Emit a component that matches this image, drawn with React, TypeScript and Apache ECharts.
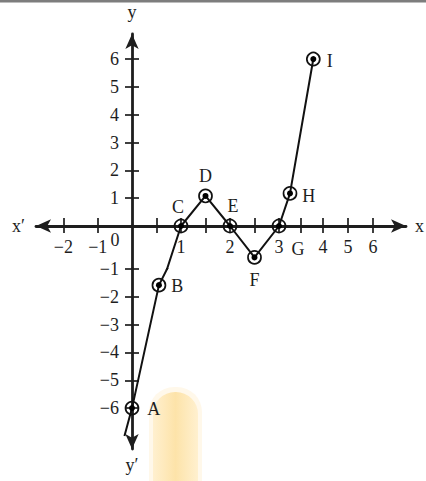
import { useEffect, useRef } from 'react';
import * as echarts from 'echarts';

// ---- data ----
const pointNames = ['A', 'B', 'C', 'D', 'E', 'F', 'G', 'H', 'I'];
const pointX = [0, 0.55, 1, 1.5, 2, 2.5, 3, 3.25, 3.78];
const pointY = [-6, -1.58, 0, 1.08, 0, -0.73, 0, 1.17, 6];
const tailX = -0.22; // curve keeps going below A
const tailY = -7.0;

// ---- tick values / labels ----
const xTicksLeft = [-2, -1];
const xTicksMid = [0.5, 1, 1.5, 2, 2.5, 3];
const xLabelsMid = [1, 2, 3];
const xTicksR1 = [3.5];
const xTicksR2 = [4, 5, 6];
const yTicksUpper = [1, 2, 3, 4, 5, 6];
const yTicksMid = [-1];
const yTicksLower = [-2, -3, -4, -5, -6];
const originLabel = '0';
const axisNames = { xStart: 'x\u2032', xEnd: 'x', yEnd: 'y', yStart: 'y\u2032' };

// label placement for A..I
const labelPos = ['right', 'right', 'top', 'top', 'top', 'bottom', 'bottom', 'right', 'right'];
const labelDist = [8, 5, 3, 4, 4, 6, 7, 5, 6];
const labelOff = [[0, 1], [0, 1], [-3, 0], [0, 0], [3, 0], [0, 0], [19, 0], [0, 3], [0, 2]];

const FONT = '"Liberation Serif", "Times New Roman", serif';
const INK = '#1e1e1e';
const CURVE = '#111111';
const FS = 18;

// piecewise scale of the hand-drawn figure: each piece is its own grid
const cols: Record<string, any> = {
  L: { left: 36, width: 96, min: -2.8, max: 0 },
  M: { left: 132, width: 147, min: 0, max: 3 },
  R1: { left: 279, width: 44, min: 3, max: 4 },
  R2: { left: 323, width: 83, min: 4, max: 7.32 },
};
const rows: Record<string, any> = {
  U: { top: 34, height: 192, min: 0, max: 6.9 },
  L1: { top: 226, height: 43, min: -1, max: 0 },
  L2: { top: 269, height: 180, min: -7.47, max: -1 },
};
const gridKeys = [
  ['L', 'U'], ['M', 'U'], ['M', 'L1'], ['M', 'L2'], ['R1', 'U'], ['R2', 'U'], ['L', 'L2'],
];

const fmt = (v: number) => (v < 0 ? '\u2212' + String(-v) : String(v));

const xDeco: Record<string, any> = {
  L: { ticks: xTicksLeft, labels: xTicksLeft, symbol: ['arrow', 'none'], name: axisNames.xStart, nameLocation: 'start', nameGap: 11 },
  M: { ticks: xTicksMid, labels: xLabelsMid, symbol: ['none', 'none'] },
  R1: { ticks: xTicksR1, labels: [], symbol: ['none', 'none'] },
  R2: { ticks: xTicksR2, labels: xTicksR2, symbol: ['none', 'arrow'], name: axisNames.xEnd, nameLocation: 'end', nameGap: 9 },
};
const yDeco: Record<string, any> = {
  U: { ticks: yTicksUpper, labels: yTicksUpper, symbol: ['none', 'arrow'], name: axisNames.yEnd, nameLocation: 'end', nameGap: 13 },
  L1: { ticks: yTicksMid, labels: yTicksMid, symbol: ['none', 'none'] },
  L2: { ticks: yTicksLower, labels: yTicksLower, symbol: ['arrow', 'none'], name: axisNames.yStart, nameLocation: 'start', nameGap: 7 },
};

function colOf(x: number) {
  if (x < 0) return 'L';
  if (x <= 3) return 'M';
  if (x <= 4) return 'R1';
  return 'R2';
}
function rowOf(y: number) {
  if (y >= 0) return 'U';
  if (y >= -1) return 'L1';
  return 'L2';
}

function buildOption() {
  const grid: any[] = [];
  const xAxis: any[] = [];
  const yAxis: any[] = [];
  const series: any[] = [];
  const textStyle = { color: INK, fontSize: FS, fontFamily: FONT };

  gridKeys.forEach(([c, r], g) => {
    const col = cols[c];
    const row = rows[r];
    grid.push({
      left: col.left, width: col.width, top: row.top, height: row.height,
      containLabel: false, outerBoundsMode: 'none', show: false,
    });
    const base = (min: number, max: number) => ({
      type: 'value', gridIndex: g, min, max, splitLine: { show: false },
      axisPointer: { show: false },
    });
    if (r === 'U') {
      const d = xDeco[c];
      xAxis.push({
        ...base(col.min, col.max),
        position: 'bottom',
        axisLine: { show: true, onZero: false, symbol: d.symbol, symbolSize: [10, 15], lineStyle: { color: INK, width: 2.8 } },
        axisTick: { show: true, inside: true, length: 8, customValues: d.ticks, lineStyle: { color: INK, width: 1.7 } },
        axisLabel: { show: d.labels.length > 0, customValues: d.labels, formatter: fmt, margin: 12, ...textStyle },
        name: d.name || '', nameLocation: d.nameLocation || 'end', nameGap: d.nameGap || 0,
        nameTextStyle: { ...textStyle, verticalAlign: 'middle' }, nameMoveOverlap: false,
      });
    } else {
      xAxis.push({ ...base(col.min, col.max), show: false });
    }
    if (c === 'M') {
      const d = yDeco[r];
      yAxis.push({
        ...base(row.min, row.max),
        position: 'left',
        axisLine: { show: true, onZero: false, symbol: d.symbol, symbolSize: [10, 15], lineStyle: { color: INK, width: 2.8 } },
        axisTick: { show: true, inside: true, length: 7, customValues: d.ticks, lineStyle: { color: INK, width: 1.7 } },
        axisLabel: { show: true, customValues: d.labels, formatter: fmt, margin: 13, ...textStyle },
        name: d.name || '', nameLocation: d.nameLocation || 'end', nameGap: d.nameGap || 0,
        nameTextStyle: { ...textStyle }, nameMoveOverlap: false,
      });
    } else {
      yAxis.push({ ...base(row.min, row.max), show: false });
    }
  });

  // second set of axes: tick halves on the other side of the axis lines
  gridKeys.forEach(([c, r], g) => {
    const col = cols[c];
    const row = rows[r];
    if (r === 'U') {
      xAxis.push({
        type: 'value', gridIndex: g, min: col.min, max: col.max, position: 'bottom',
        splitLine: { show: false }, axisLine: { show: false, onZero: false },
        axisTick: { show: true, inside: false, length: 7, customValues: xDeco[c].ticks, lineStyle: { color: INK, width: 1.7 } },
        axisLabel: { show: false },
      });
    }
    if (c === 'M') {
      yAxis.push({
        type: 'value', gridIndex: g, min: row.min, max: row.max, position: 'left',
        splitLine: { show: false }, axisLine: { show: false, onZero: false },
        axisTick: { show: true, inside: false, length: 7, customValues: yDeco[r].ticks, lineStyle: { color: INK, width: 1.7 } },
        axisLabel: { show: false },
      });
    }
  });

  const curve = [[tailX, tailY], ...pointX.map((x, i) => [x, pointY[i]])];

  gridKeys.forEach(([c, r], g) => {
    series.push({
      type: 'line', xAxisIndex: g, yAxisIndex: g, data: curve, showSymbol: false,
      clip: true, silent: true, z: 3,
      lineStyle: { color: CURVE, width: 2 },
    });
    const idx = pointX.map((_, i) => i).filter((i) => colOf(pointX[i]) === c && rowOf(pointY[i]) === r);
    if (idx.length === 0) return;
    series.push({
      type: 'scatter', xAxisIndex: g, yAxisIndex: g, clip: false, silent: true, z: 4,
      symbol: 'circle', symbolSize: 13,
      itemStyle: { color: 'rgba(255,255,255,0)', borderColor: CURVE, borderWidth: 1.7, opacity: 1 },
      data: idx.map((i) => ({
        name: pointNames[i], value: [pointX[i], pointY[i]],
        label: { position: labelPos[i], distance: labelDist[i], offset: labelOff[i] },
      })),
      label: { show: true, formatter: '{b}', ...textStyle },
    });
    series.push({
      type: 'scatter', xAxisIndex: g, yAxisIndex: g, clip: false, silent: true, z: 6,
      symbol: 'circle', symbolSize: 6,
      itemStyle: { color: '#000000', opacity: 1, borderWidth: 0 },
      data: idx.map((i) => ({ name: pointNames[i], value: [pointX[i], pointY[i]] })),
    });
  });

  return {
    animation: false,
    backgroundColor: '#ffffff',
    grid, xAxis, yAxis, series,
    graphic: [
      { type: 'rect', left: 0, top: 0, shape: { width: 426, height: 2.5 }, style: { fill: '#7d7d7d' }, z: 10 },
      {
        type: 'rect', shape: { x: 149, y: 387, width: 53, height: 100, r: [25, 25, 0, 0] },
        style: { fill: '#fff8ea' }, z: -2,
      },
      {
        type: 'rect', shape: { x: 153, y: 392, width: 45, height: 95, r: [22, 22, 0, 0] },
        style: {
          fill: {
            type: 'linear', x: 0, y: 0, x2: 1, y2: 0,
            colorStops: [
              { offset: 0, color: '#fff0cf' },
              { offset: 0.5, color: '#fde3a9' },
              { offset: 1, color: '#fff0cf' },
            ],
          },
        },
        z: -1,
      },
      {
        type: 'text', x: 115, y: 240,
        style: { text: originLabel, fill: INK, font: `${FS}px ${FONT}`, textAlign: 'center', textVerticalAlign: 'middle' },
        z: 10,
      },
    ],
  };
}

export default function App() {
  const ref = useRef<HTMLDivElement>(null);
  useEffect(() => {
    if (!ref.current) return;
    const chart = echarts.init(ref.current, undefined, { renderer: 'svg' });
    chart.setOption(buildOption() as any);
    return () => chart.dispose();
  }, []);
  return (
    <div
      ref={ref}
      style={{ position: 'absolute', left: 0, top: 0, width: 426, height: 481, background: '#fff' }}
    />
  );
}
